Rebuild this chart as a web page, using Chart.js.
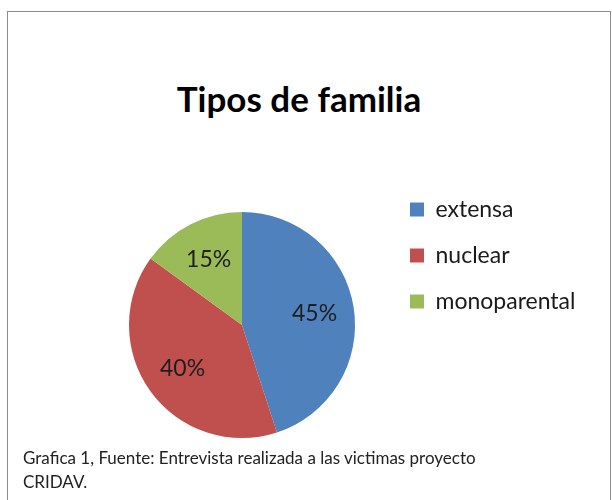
<!DOCTYPE html>
<html>
<head>
<meta charset="utf-8">
<script src="https://cdn.jsdelivr.net/npm/chart.js@4/dist/chart.umd.min.js"></script>
<style>
    html, body { margin: 0; padding: 0; width: 612px; height: 500px; overflow: hidden; background: #fff; }
    #frame { position: absolute; left: 7px; top: 11px; width: 602px; height: 600px; border: 1px solid #8c8c8c; }
    #wrap { position: absolute; left: 0; top: 0; width: 612px; height: 500px; }
    #title { position: absolute; left: 0; top: 77px; width: 598px; text-align: center; font-family: Lato, sans-serif; font-weight: bold; font-size: 35px; line-height: 42px; color: #000; }
    #caption { position: absolute; left: 23px; top: 446px; font-family: Lato, sans-serif; font-size: 17px; line-height: 24px; color: #222; }
</style>
</head>
<body>
<div id="frame"></div>
<div id="title">Tipos de familia</div>
<div id="wrap"><canvas id="familia" width="612" height="500"></canvas></div>
<div id="caption">Grafica 1, Fuente:  Entrevista realizada a las victimas proyecto<br>CRIDAV.</div>
<script>
// Data
const categories = ['extensa', 'nuclear', 'monoparental'];
const values = [45, 40, 15];
const colors = ['#4F81BD', '#C0504D', '#9BBB59'];

// Draw the percentage inside each slice
const sliceLabels = {
    id: 'sliceLabels',
    afterDatasetsDraw(chart) {
        const ctx = chart.ctx;
        const meta = chart.getDatasetMeta(0);
        const total = values.reduce((a, b) => a + b, 0);
        ctx.save();
        ctx.font = '23px Lato, sans-serif';
        ctx.fillStyle = '#1e1e1e';
        ctx.textAlign = 'center';
        ctx.textBaseline = 'middle';
        meta.data.forEach((arc, i) => {
            const p = arc.getProps(['x', 'y', 'startAngle', 'endAngle', 'outerRadius'], true);
            const mid = (p.startAngle + p.endAngle) / 2;
            const r = p.outerRadius * 0.65;
            const pct = Math.round(values[i] / total * 100) + '%';
            ctx.fillText(pct, p.x + Math.cos(mid) * r, p.y + Math.sin(mid) * r);
        });
        ctx.restore();
    }
};

document.addEventListener('DOMContentLoaded', () => {
    const ctx = document.getElementById('familia');
    new Chart(ctx, {
        type: 'pie',
        data: {
            labels: categories,
            datasets: [{
                data: values,
                backgroundColor: colors,
                borderWidth: 0,
                radius: 113
            }]
        },
        options: {
            responsive: false,
            animation: false,
            layout: { padding: { left: 97, right: 35, top: 175, bottom: 25 } },
            plugins: {
                title: { display: false },
                legend: {
                    position: 'right',
                    align: 'start',
                    fullSize: false,
                    maxWidth: 190,
                    labels: {
                        boxWidth: 14,
                        boxHeight: 14,
                        padding: 23,
                        color: '#1a1a1a',
                        font: { family: 'Lato, sans-serif', size: 23 }
                    }
                },
                tooltip: { enabled: false }
            }
        },
        plugins: [sliceLabels]
    });
});
</script>
</body>
</html>
